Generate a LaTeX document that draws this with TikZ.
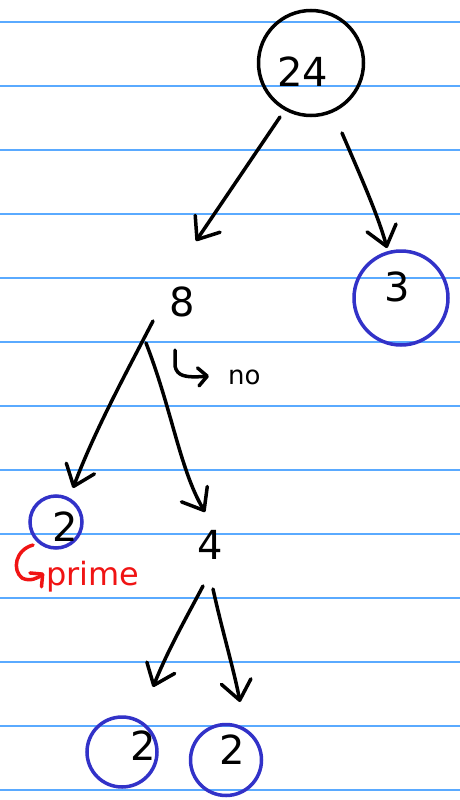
\documentclass[tikz,border=0pt]{standalone}
\usepackage{fontspec}
\setmainfont{DejaVu Sans}
\usetikzlibrary{arrows.meta}
\definecolor{paperline}{RGB}{90,170,255}
\definecolor{inkblue}{RGB}{50,50,200}
\definecolor{inkred}{RGB}{240,20,20}
\begin{document}
\begin{tikzpicture}[x=1pt,y=-1pt,
  ink/.style={line width=3.5pt, line cap=round, line join=round},
  arr/.style={ink, -{Straight Barb[length=19pt,width=30pt,line cap=round,line join=round]}},
  smallarr/.style={ink, -{Straight Barb[length=9pt,width=18pt,line cap=round,line join=round]}},
  num/.style={font=\fontsize{40}{40}\selectfont, inner sep=0pt},
  ring/.style={circle, draw=inkblue, line width=3.5pt, inner sep=0pt},
]
\fill[white] (0,0) rectangle (460,800);
\useasboundingbox (0,0) rectangle (460,800);
\foreach \y in {22,86,...,790} \draw[paperline, line width=1.5pt] (0,\y) -- (460,\y);

% circles and numbers
\node[ring, draw=black, minimum size=105] (c24) at (311,63) {};
\node[num] (n24) at (303,72) {24};
\node[ring, minimum size=94] (c3) at (401,298) {};
\node[num] (n3) at (397,287) {3};
\node[num] (n8) at (182,302) {8};
\node[ring, minimum size=52] (c2a) at (56,522) {};
\node[num] (n2a) at (65,527) {2};
\node[num] (n4) at (210,545) {4};
\node[ring, minimum size=70] (c2b) at (122,752) {};
\node[num] (n2b) at (143,746) {2};
\node[ring, minimum size=71] (c2c) at (226,760) {};
\node[num] (n2c) at (232,750) {2};

% connector end points
\coordinate (a1s) at (280,117); \coordinate (a1e) at (196,241);
\coordinate (a2s) at (342,133); \coordinate (a2e) at (387,248);
\coordinate (b1s) at (153,321); \coordinate (b1e) at (73,488);
\coordinate (b2s) at (146,343); \coordinate (b2e) at (205,512);
\coordinate (d1s) at (203,586); \coordinate (d1e) at (153,687);
\coordinate (d2s) at (213,589); \coordinate (d2e) at (240,702);

\draw[arr] (a1s) -- (a1e);
\draw[arr] (a2s) .. controls (360,175) and (378,215) .. (a2e);
\draw[arr] (b1s) .. controls (125,375) and (95,430) .. (b1e);
\draw[arr] (b2s) .. controls (172,410) and (180,470) .. (b2e);
\draw[arr] (d1s) .. controls (185,620) and (168,650) .. (d1e);
\draw[arr] (d2s) .. controls (222,630) and (234,670) .. (d2e);

% annotations
\coordinate (h1s) at (175,350); \coordinate (h1e) at (209,376);
\draw[smallarr] (h1s) -- (175,366) .. controls (177,376) and (185,378) .. (h1e);
\node[anchor=base west, inner sep=0pt, font=\fontsize{26}{26}\selectfont] (no) at (228,384) {no};

\coordinate (h2s) at (33,545); \coordinate (h2e) at (44,573);
\draw[smallarr, inkred] (h2s) .. controls (15,550) and (12,570) .. (22,578) .. controls (30,582) and (38,578) .. (h2e);
\node[anchor=base west, inner sep=0pt, text=inkred, font=\fontsize{32}{32}\selectfont] (prime) at (46,585) {prime};
\end{tikzpicture}
\end{document}
